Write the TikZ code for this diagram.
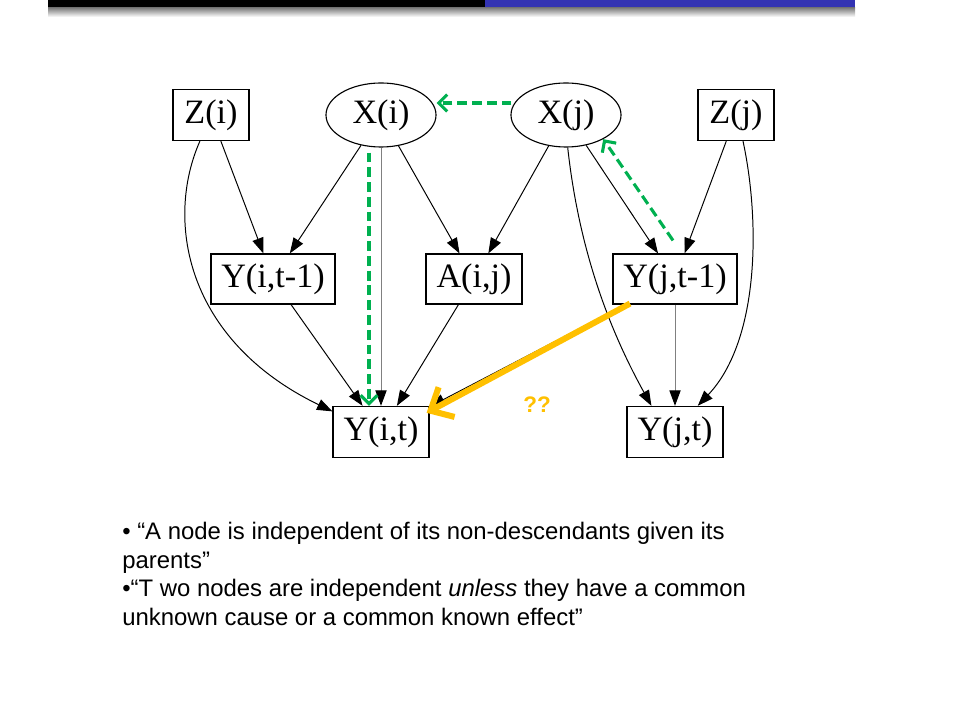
\documentclass[tikz,border=0pt]{standalone}
\usepackage{fontspec}
\setmainfont{Liberation Sans}
\newfontfamily\boxfont{Liberation Serif}
\usetikzlibrary{arrows.meta,shapes.geometric,calc}
\definecolor{dagreen}{HTML}{00B050}
\definecolor{qgold}{HTML}{FFC000}
\definecolor{barblue}{HTML}{3333B3}

\begin{document}
\begin{tikzpicture}[x=0.025cm,y=-0.025cm,
  var/.style={draw,rectangle,line width=0.8pt,inner sep=0pt,minimum height=1.28cm,font=\boxfont\fontsize{24.3pt}{26pt}\selectfont},
  hid/.style={draw,ellipse,line width=0.8pt,inner sep=0pt,minimum width=2.75cm,minimum height=1.6cm,font=\boxfont\fontsize{24.3pt}{26pt}\selectfont},
  edge/.style={line width=0.7pt,-{Triangle[length=11pt,width=8pt]}},
  grayedge/.style={gray,line width=0.7pt,-{Triangle[length=11pt,width=8pt,black]}},
  guess/.style={dagreen,line width=2.2pt,dash pattern=on 7pt off 3.5pt,-{Straight Barb[length=6pt,width=12pt]}},
  link/.style={qgold,line width=4.3pt,-{Straight Barb[length=13pt,width=24pt]}}]
\useasboundingbox (0,0) rectangle (960,720);
\fill[black] (48,0) rectangle (485,8);
\fill[barblue] (485,0) rectangle (855,8);
\shade[top color=gray,bottom color=white] (48,8) rectangle (855,17);

\node[var,minimum width=1.9cm] (zi) at (211,115) {Z(i)};
\node[hid] (xi) at (381,115) {X(i)};
\node[hid] (xj) at (566,115) {X(j)};
\node[var,minimum width=1.9cm] (zj) at (736,115) {Z(j)};
\node[var,minimum width=3.1cm,minimum height=1.25cm] (yit1) at (273,279) {Y(i,t-1)};
\node[var,minimum width=2.4cm,minimum height=1.25cm] (aij) at (474,279) {A(i,j)};
\node[var,minimum width=3.1cm,minimum height=1.25cm] (yjt1) at (675,279) {Y(j,t-1)};
\node[var,minimum width=2.4cm] (yit) at (381,432) {Y(i,t)};
\node[var,minimum width=2.4cm] (yjt) at (675,432) {Y(j,t)};

\draw[edge] (zi) -- (yit1);
\draw[edge] (zi.-113) .. controls (165,220) and (185,340) .. (yit.157);
\draw[edge] (xi) -- (yit1);
\draw[grayedge] (xi) -- (yit);
\draw[edge] (xi) -- (aij);
\draw[edge] (xj) -- (aij);
\draw[edge] (xj) -- (yjt1);
\draw[edge] (xj.-87) .. controls (580,260) and (615,340) .. (yjt.132);
\draw[edge] (zj) -- (yjt1);
\draw[edge] (zj.-75) .. controls (760,220) and (760,340) .. (yjt.49);
\draw[edge] (yit1) -- (yit);
\draw[edge] (aij) -- (yit);
\draw[edge] (yjt1) -- (yit);
\draw[grayedge] (yjt1) -- (yjt);

\draw[link] ($(yjt1.south)+(-45,-1)$) -- ($(yit.north east)+(-3,7)$);
\node[qgold,font=\bfseries\fontsize{16pt}{18pt}\selectfont] (qq) at (537,405) {??};

\draw[guess] ($(xj.west)+(1,-12)$) -- ($(xi.east)+(0,-12)$);
\draw[guess] ($(yjt1.north)+(-2,-13)$) -- (xj.-33);
\draw[guess] ($(xi.south)+(-12,5)$) -- ($(yit.north)+(-12,0)$);

\node[anchor=north west,align=left,inner sep=0pt,font=\fontsize{17pt}{20.4pt}\selectfont] (rules) at (122,522)
  {• “A node is independent of its non-descendants given its\\
   parents”\\
   •“T wo nodes are independent \textit{unless} they have a common\\
   unknown cause or a common known effect”};
\end{tikzpicture}
\end{document}
